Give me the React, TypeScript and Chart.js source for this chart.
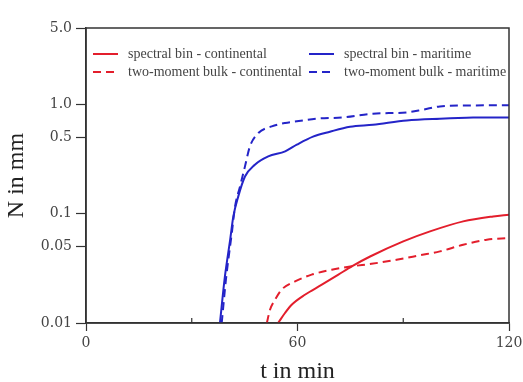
import React, { useEffect, useRef } from "react";
import { Chart, registerables } from "chart.js";

Chart.register(...registerables);

// ---- data (t in min, N in mm) ----
const specBinConT = [54.5, 56.45, 58.35, 62.1, 66.9, 71.6, 75.4, 80.6, 90.0, 97.6, 107.0, 115.5, 120];
const specBinConN = [0.01, 0.01235, 0.0147, 0.01815, 0.0224, 0.0277, 0.033, 0.0406, 0.0558, 0.0689, 0.0851, 0.0945, 0.098];

const bulkConT = [51.3, 52.2, 53.6, 55.5, 59.3, 64.0, 69.7, 75.4, 81.0, 88.1, 94.8, 100.4, 107.0, 113.7, 120];
const bulkConN = [0.01, 0.0132, 0.0163, 0.0202, 0.024, 0.0277, 0.0307, 0.033, 0.0348, 0.0379, 0.0417, 0.0452, 0.052, 0.0578, 0.06];

const specBinMarT = [38.0, 39.4, 40.9, 41.8, 43.2, 45.1, 47.9, 51.7, 56.5, 59.8, 64.4, 69.2, 74.9, 81.4, 91.0, 100.4, 109.8, 120];
const specBinMarN = [0.01, 0.0265, 0.058, 0.0945, 0.144, 0.219, 0.281, 0.335, 0.372, 0.428, 0.507, 0.563, 0.625, 0.652, 0.714, 0.74, 0.757, 0.76];

const bulkMarT = [38.5, 39.7, 41.4, 42.3, 43.7, 45.1, 46.5, 48.9, 52.7, 56.5, 59.8, 65.4, 72.9, 81.4, 91.0, 95.6, 100.4, 109.8, 120];
const bulkMarN = [0.01, 0.025, 0.068, 0.117, 0.178, 0.271, 0.413, 0.547, 0.629, 0.676, 0.7, 0.741, 0.76, 0.823, 0.845, 0.895, 0.959, 0.979, 0.98];

const seriesLabels = [
  "spectral bin - continental",
  "two-moment bulk - continental",
  "spectral bin - maritime",
  "two-moment bulk - maritime",
];

const yTickValues = [0.01, 0.05, 0.1, 0.5, 1.0, 5.0];
const yTickLabels = ["0.01", "0.05", "0.1", "0.5", "1.0", "5.0"];
const xTickValues = [0, 30, 60, 90, 120];
const xTickLabels = ["0", "", "60", "", "120"];
const xMinorTicks = [30, 90];

const RED = "#e31e2c";
const BLUE = "#2424c8";
const AXIS = "#333333";

const pts = (t: number[], n: number[]) => t.map((x, i) => ({ x, y: n[i] }));

const framePlugin = {
  id: "frame",
  afterDraw(chart: any) {
    const { ctx, chartArea } = chart;
    const xs = chart.scales.x;
    ctx.save();
    ctx.strokeStyle = AXIS;
    ctx.lineWidth = 1.5;
    ctx.strokeRect(chartArea.left, chartArea.top, chartArea.right - chartArea.left, chartArea.bottom - chartArea.top);
    ctx.lineWidth = 1.2;
    xMinorTicks.forEach((v) => {
      const px = xs.getPixelForValue(v);
      ctx.beginPath();
      ctx.moveTo(px, chartArea.bottom);
      ctx.lineTo(px, chartArea.bottom - 5);
      ctx.stroke();
    });
    ctx.restore();
  },
};

const legendPos = [
  [93, 54],
  [93, 72],
  [309, 54],
  [309, 72],
];

const inlineLegend = {
  id: "inlineLegend",
  afterDraw(chart: any) {
    const ctx = chart.ctx;
    ctx.save();
    chart.data.datasets.forEach((ds: any, i: number) => {
      const [x, y] = legendPos[i];
      ctx.strokeStyle = ds.borderColor;
      ctx.lineWidth = 2;
      ctx.setLineDash(ds.borderDash || []);
      ctx.beginPath();
      ctx.moveTo(x, y);
      ctx.lineTo(x + 25, y);
      ctx.stroke();
      ctx.setLineDash([]);
      ctx.fillStyle = "#444";
      ctx.font = "14px 'Liberation Serif', serif";
      ctx.textBaseline = "middle";
      ctx.textAlign = "left";
      ctx.fillText(ds.label, x + 35, y);
    });
    ctx.restore();
  },
};

export default function App() {
  const ref = useRef<HTMLCanvasElement>(null);

  useEffect(() => {
    if (!ref.current) return;
    const common = {
      pointRadius: 0,
      borderWidth: 2,
      fill: false,
      cubicInterpolationMode: "monotone" as const,
    };
    const chart = new Chart(ref.current, {
      type: "line",
      data: {
        datasets: [
          { ...common, label: seriesLabels[0], data: pts(specBinConT, specBinConN), borderColor: RED },
          { ...common, label: seriesLabels[1], data: pts(bulkConT, bulkConN), borderColor: RED, borderDash: [8, 5] },
          { ...common, label: seriesLabels[2], data: pts(specBinMarT, specBinMarN), borderColor: BLUE },
          { ...common, label: seriesLabels[3], data: pts(bulkMarT, bulkMarN), borderColor: BLUE, borderDash: [8, 5] },
        ],
      },
      options: {
        responsive: false,
        animation: false,
        devicePixelRatio: 1,
        layout: { padding: { left: 0, right: 14, top: 28, bottom: 0 } },
        plugins: { legend: { display: false }, tooltip: { enabled: false } },
        scales: {
          x: {
            type: "linear",
            min: 0,
            max: 120,
            afterBuildTicks: (s: any) => {
              s.ticks = xTickValues.map((v) => ({ value: v }));
            },
            afterFit: (s: any) => {
              s.height = 59;
              s.paddingRight = 0;
              s.paddingLeft = 0;
            },
            ticks: {
              autoSkip: false,
              maxRotation: 0,
              padding: 4,
              color: "#444",
              font: { family: "'DejaVu Serif', serif", size: 14 },
              callback: (v: any) => xTickLabels[xTickValues.indexOf(Number(v))] ?? "",
            },
            grid: {
              drawOnChartArea: false,
              drawTicks: true,
              tickLength: 8,
              tickWidth: 1.2,
              color: (c: any) => (xMinorTicks.includes(c.tick?.value) ? "rgba(0,0,0,0)" : AXIS),
            },
            border: { display: true, color: AXIS, width: 1.5 },
            title: {
              display: true,
              text: "t in min",
              color: "#222",
              font: { family: "'Liberation Serif', serif", size: 24, lineHeight: 1 },
              padding: { top: 0, bottom: -2 },
            },
          },
          y: {
            type: "logarithmic",
            min: 0.01,
            max: 5,
            afterBuildTicks: (s: any) => {
              s.ticks = yTickValues.map((v) => ({ value: v }));
            },
            afterFit: (s: any) => {
              s.width = 86;
              s.paddingTop = 0;
              s.paddingBottom = 0;
            },
            ticks: {
              autoSkip: false,
              padding: 4,
              color: "#444",
              font: { family: "'DejaVu Serif', serif", size: 14 },
              callback: (v: any) => {
                const i = yTickValues.findIndex((t) => Math.abs(t - Number(v)) < 1e-9);
                return i >= 0 ? yTickLabels[i] : "";
              },
            },
            grid: {
              drawOnChartArea: false,
              drawTicks: true,
              tickLength: 10,
              tickWidth: 1.2,
              color: AXIS,
            },
            border: { display: true, color: AXIS, width: 1.5 },
            title: {
              display: true,
              text: "N in mm",
              color: "#222",
              font: { family: "'Liberation Serif', serif", size: 24, lineHeight: 1 },
              padding: { top: 5, bottom: 0 },
            },
          },
        },
      },
      plugins: [framePlugin, inlineLegend],
    });
    return () => chart.destroy();
  }, []);

  return (
    <div style={{ position: "absolute", left: 0, top: 0, width: 523, height: 382, background: "#fff" }}>
      <canvas ref={ref} width={523} height={382} />
    </div>
  );
}
